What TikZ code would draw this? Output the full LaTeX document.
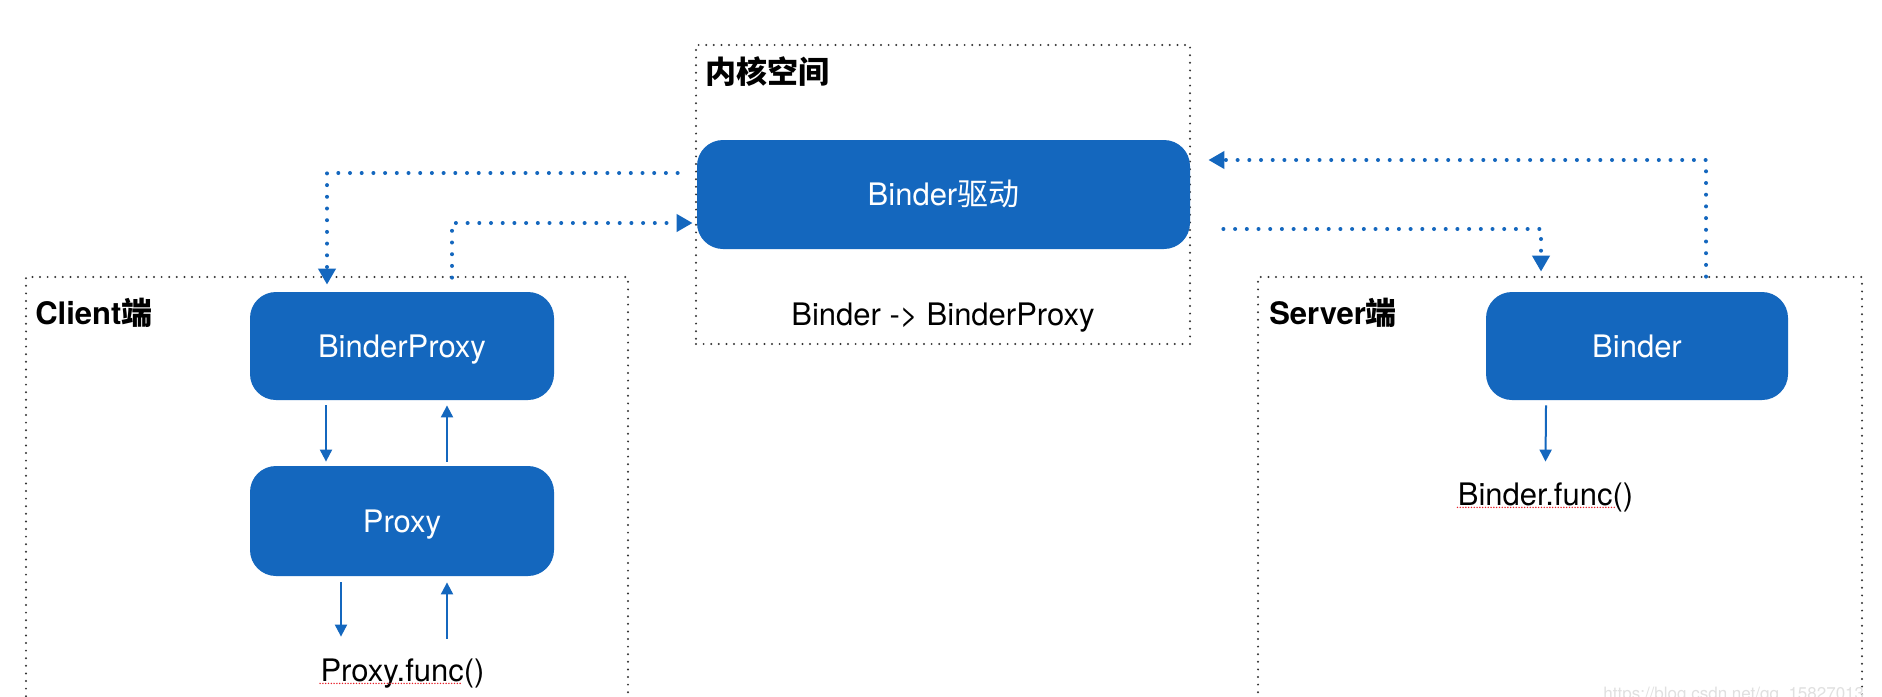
\documentclass[tikz,border=0pt]{standalone}
\usepackage{fontspec}
\setmainfont{TeX Gyre Heros}
\newfontfamily\cjk{Noto Sans CJK SC}
\usetikzlibrary{arrows.meta,calc}
\definecolor{bdblue}{HTML}{1467BE}
\definecolor{bdgrid}{HTML}{333333}
\definecolor{bdspell}{HTML}{E8202A}
\tikzset{
  bdnode/.style={fill=bdblue, text=white, rounded corners=13pt, inner sep=0pt,
                 font=\fontsize{15.5}{18}\selectfont, text height=11pt, text depth=0pt},
  bdframe/.style={draw=bdgrid, line width=1.1pt, line cap=round, dash pattern=on 0pt off 3.8pt, inner sep=0pt},
  bdlabel/.style={anchor=west, inner sep=0pt, font=\fontsize{15.5}{18}\selectfont\bfseries},
  bdtext/.style={inner sep=0pt, font=\fontsize{15.5}{18}\selectfont, text height=11.5pt, text depth=3pt},
  bdcall/.style={-{Triangle[length=8pt,width=8.5pt]}, draw=bdblue, line width=2pt, line cap=round,
                 dash pattern=on 0pt off 5.85pt},
  bdflow/.style={-{Triangle[length=6pt,width=6pt]}, draw=bdblue, line width=1pt},
  bdspellmark/.style={draw=bdspell, line width=0.8pt, line cap=round, dash pattern=on 0pt off 1.4pt},
}
\begin{document}
\begin{tikzpicture}[x=0.5pt, y=-0.5pt]
    \path[use as bounding box, fill=white] (0,0) rectangle (1882,696);
    % frames
    \node[bdframe, minimum width=247pt, minimum height=149.5pt] (kbox) at (943,194.5) {};
    \node[bdframe, minimum width=301pt, minimum height=260pt] (cbox) at (327,537) {};
    \node[bdframe, minimum width=302pt, minimum height=260pt] (sbox) at (1560,537) {};
    \node[bdlabel] (klabel) at ([xshift=5pt,yshift=-14pt]kbox.north west) {\cjk 内核空间};
    \node[bdlabel] (clabel) at ([xshift=5pt,yshift=-18.5pt]cbox.north west) {Client{\cjk 端}};
    \node[bdlabel] (slabel) at ([xshift=6pt,yshift=-18.5pt]sbox.north west) {Server{\cjk 端}};
    % kernel
    \node[bdnode, minimum width=246.5pt, minimum height=54.5pt] (kd) at (943.5,194.5) {Binder{\cjk 驱动}};
    \node[bdtext, anchor=base] (kmap) at (943,325) {Binder -> BinderProxy};
    % client
    \node[bdnode, minimum width=152pt, minimum height=54pt] (bp) at (402,346) {BinderProxy};
    \node[bdnode, minimum width=152pt, minimum height=55pt] (px) at (402,521) {Proxy};
    \node[bdtext, anchor=base] (pf) at (402.5,681) {Proxy.func()};
    % server
    \node[bdnode, minimum width=151pt, minimum height=54pt] (bn) at (1637,346) {Binder};
    \node[bdtext, anchor=base] (bf) at (1545.5,505) {Binder.func()};
    % calls through the driver
    \draw[bdcall] ([xshift=-9.5pt,yshift=10.75pt]kd.west) -| ([xshift=-37.5pt,yshift=3.5pt]bp.north);
    \draw[bdcall] ([xshift=25pt,yshift=7pt]bp.north) |- ([xshift=-2pt,yshift=-14.25pt]kd.west);
    \draw[bdcall] ([xshift=16.5pt,yshift=-17.25pt]kd.east) -| ([xshift=-48pt,yshift=10pt]bn.north);
    \draw[bdcall] ([xshift=34.5pt,yshift=7.5pt]bn.north) |- ([xshift=9pt,yshift=17.25pt]kd.east);
    % local flows
    \draw[bdflow] ([xshift=-38pt,yshift=-2.5pt]bp.south) -- ([xshift=-38pt,yshift=2pt]px.north);
    \draw[bdflow] ([xshift=22.5pt,yshift=2pt]px.north) -- ([xshift=22.5pt,yshift=-2.5pt]bp.south);
    \draw[bdflow] ([xshift=-30.5pt,yshift=-3pt]px.south) -- ([xshift=-30.75pt,yshift=10.5pt]pf.north);
    \draw[bdflow] ([xshift=22.25pt,yshift=9.5pt]pf.north) -- ([xshift=22.5pt,yshift=-3pt]px.south);
    \draw[bdflow] ([xshift=-45.5pt,yshift=-2.5pt]bn.south) -- ([yshift=10pt]bf.north);
    % spell-check marks
    \draw[bdspellmark] ([yshift=-1.2pt]pf.base west) -- ++(70.5pt,0);
    \draw[bdspellmark] ([yshift=-1.2pt]bf.base west) -- ++(78.5pt,0);
    % watermark
    \node[anchor=base west, inner sep=0pt, font=\fontsize{8.5}{10}\selectfont, text=black!12] (wm)
        at (1603,699) {https://blog.csdn.net/qq\_15827013};
\end{tikzpicture}
\end{document}
